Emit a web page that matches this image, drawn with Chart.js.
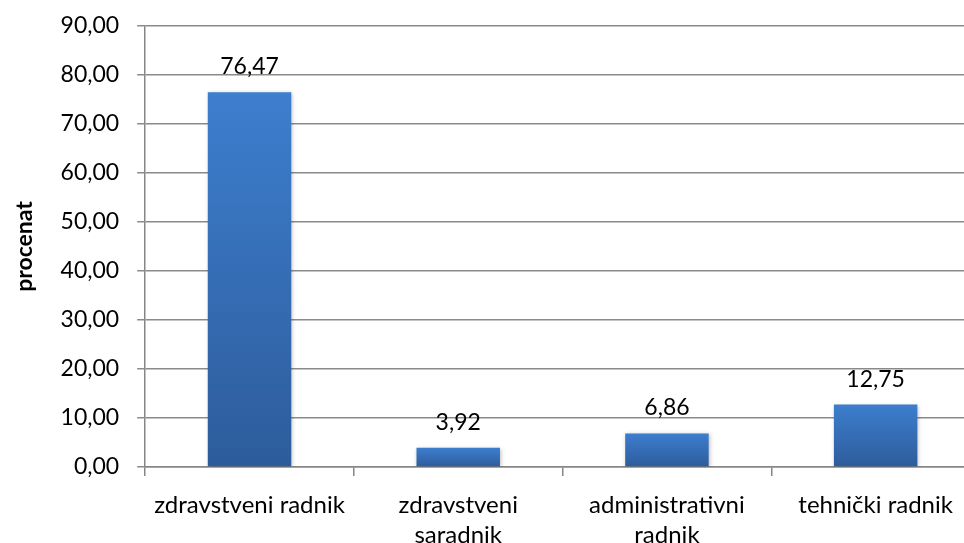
<!DOCTYPE html>
<html>
<head>
<meta charset="utf-8">
<script src="https://cdn.jsdelivr.net/npm/chart.js@4/dist/chart.umd.min.js"></script>
<style>
html,body{margin:0;padding:0;background:#fff;overflow:hidden;}
#wrap{position:relative;width:980px;height:564px;}
</style>
</head>
<body>
<div id="wrap"><canvas id="c" width="980" height="564"></canvas></div>
<script>
const categories = [["zdravstveni radnik"], ["zdravstveni", "saradnik"], ["administrativni", "radnik"], ["tehnički radnik"]];
const values = [76.47, 3.92, 6.86, 12.75];
const yTicks = [0, 10, 20, 30, 40, 50, 60, 70, 80, 90];
const yTitle = "procenat";

const FONT = "Lato, 'Open Sans', sans-serif";
const fmt = v => v.toFixed(2).replace('.', ',');

const labelPlugin = {
  id: 'barLabels',
  afterDatasetsDraw(chart) {
    const ctx = chart.ctx;
    const meta = chart.getDatasetMeta(0);
    ctx.save();
    ctx.font = "23px " + FONT;
    ctx.fillStyle = "#000";
    ctx.textAlign = "center";
    ctx.textBaseline = "alphabetic";
    meta.data.forEach((bar, i) => {
      ctx.fillText(fmt(values[i]), bar.x, bar.y - 18);
    });
    ctx.restore();
  }
};

const shadowPlugin = {
  id: 'barShadow',
  beforeDatasetsDraw(chart) {
    chart.ctx.save();
    chart.ctx.shadowColor = 'rgba(0,0,0,0.25)';
    chart.ctx.shadowBlur = 4;
    chart.ctx.shadowOffsetX = 1;
    chart.ctx.shadowOffsetY = 1;
  },
  afterDatasetsDraw(chart) {
    chart.ctx.restore();
  }
};

function barGradient(context) {
  const chart = context.chart;
  const y = chart.scales.y;
  if (!y || context.dataIndex === undefined) return '#3a78c8';
  const top = y.getPixelForValue(values[context.dataIndex]);
  const base = y.getPixelForValue(0);
  if (!isFinite(top) || !isFinite(base) || top === base) return '#3a78c8';
  const g = chart.ctx.createLinearGradient(0, top, 0, base);
  g.addColorStop(0, '#3d7ece');
  g.addColorStop(1, '#2d5c9b');
  return g;
}

new Chart(document.getElementById('c'), {
  type: 'bar',
  data: {
    labels: categories,
    datasets: [{
      data: values,
      backgroundColor: barGradient,
      borderWidth: 0,
      barPercentage: 0.4,
      categoryPercentage: 1.0
    }]
  },
  options: {
    responsive: false,
    animation: false,
    devicePixelRatio: 1,
    layout: { padding: { top: 26, left: 11, right: 0, bottom: 0 } },
    plugins: { legend: { display: false }, tooltip: { enabled: false } },
    scales: {
      x: {
        grid: { display: true, drawOnChartArea: false, offset: true, color: '#868686', tickLength: 9, lineWidth: 1.5 },
        border: { color: '#868686', width: 1.5 },
        ticks: { color: '#000', font: { family: FONT, size: 24, lineHeight: 1.25 }, padding: 14, maxRotation: 0, autoSkip: false },
      },
      y: {
        min: 0, max: 90,
        afterBuildTicks(scale) { scale.ticks = yTicks.map(v => ({ value: v })); },
        grid: { color: '#8a8a8a', tickLength: 8, lineWidth: 1.5 },
        border: { color: '#868686', width: 1.5 },
        ticks: { color: '#000', font: { family: FONT, size: 23, lineHeight: 0.5 }, padding: 18, callback: v => fmt(v) },
        title: { display: true, text: yTitle, color: '#000', font: { family: FONT, size: 23, weight: 'bold' }, padding: { top: 0, bottom: 4 } }
      }
    }
  },
  plugins: [shadowPlugin, labelPlugin]
});
</script>
</body>
</html>
